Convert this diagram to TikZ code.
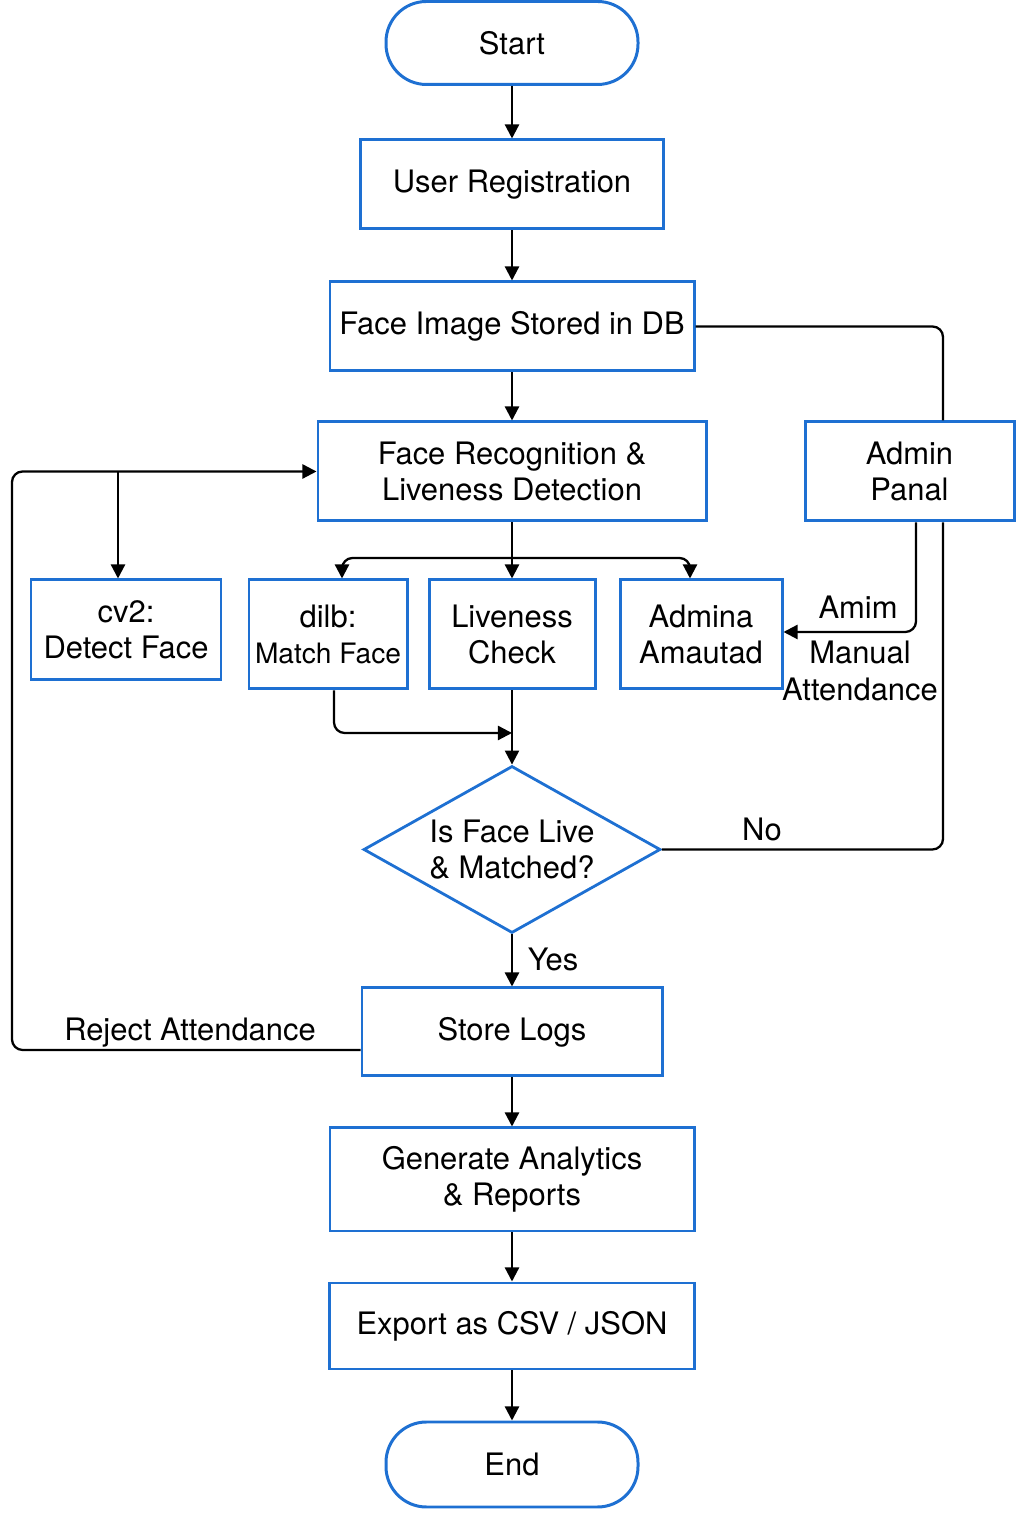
\documentclass[tikz,border=0pt]{standalone}
\usepackage{fontspec}
\setmainfont{TeX Gyre Heros}
\usetikzlibrary{shapes.geometric,arrows.meta}
\definecolor{boxblue}{RGB}{30,112,210}

\begin{document}
\begin{tikzpicture}[
    font=\fontsize{17.6}{20.8}\selectfont,
    box/.style={draw=boxblue, line width=1.7pt, align=center, inner sep=0pt},
    term/.style={box, rounded corners=23pt, minimum width=5.04cm, minimum height=1.66cm},
    decision/.style={draw=boxblue, line width=1.6pt, diamond, aspect=1.78, align=center, inner sep=0pt,
      minimum width=5.94cm, minimum height=3.34cm},
    line/.style={line width=1.3pt, rounded corners=6pt},
    arrow/.style={line, -{Triangle[length=8pt,width=8pt]}},
    lbl/.style={inner sep=0pt, align=center}
  ]
		\useasboundingbox (0,0) rectangle (20.48,30.72);

		% Main column
		\node[term] (start) at (10.24,29.86) {Start};
		\node[box, minimum width=6.06cm, minimum height=1.78cm] (reg) at (10.24,27.03) {User Registration};
		\node[box, minimum width=7.28cm, minimum height=1.78cm] (fimg) at (10.24,24.19) {Face Image Stored in DB};
		\node[box, minimum width=7.76cm, minimum height=1.98cm] (frec) at (10.24,21.29) {Face Recognition \&\\Liveness Detection};
		\node[box, minimum width=4.18cm, minimum height=1.98cm] (admin) at (18.19,21.29) {Admin\\Panal};

		% Checks
		\node[box, minimum width=3.80cm, minimum height=2.00cm] (cv) at (2.52,18.12) {cv2:\\Detect Face};
		\node[box, minimum width=3.16cm, minimum height=2.18cm] (dilb) at (6.56,18.03) {dilb:\\{\fontsize{16}{20}\selectfont Match Face}};
		\node[box, minimum width=3.32cm, minimum height=2.18cm] (liv) at (10.24,18.03) {Liveness\\Check};
		\node[box, minimum width=3.24cm, minimum height=2.18cm] (admina) at (14.02,18.03) {Admina\\Amautad};

		% Decision and output
		\node[decision] (dec) at (10.24,13.73) {Is Face Live\\\& Matched?};
		\node[box, minimum width=6.00cm, minimum height=1.76cm] (store) at (10.24,10.08) {Store Logs};
		\node[box, minimum width=7.28cm, minimum height=2.06cm] (gen) at (10.24,7.13) {Generate Analytics\\\& Reports};
		\node[box, minimum width=7.30cm, minimum height=1.72cm] (export) at (10.24,4.20) {Export as CSV / JSON};
		\node[term, minimum height=1.70cm] (end) at (10.24,1.43) {End};

		% Labels
		\node[lbl] (lblno) at (15.24,14.14) {No};
		\node[lbl] (lblyes) at (11.06,11.54) {Yes};
		\node[lbl] (lblreject) at (3.80,10.06) {Reject Attendance};
		\node[lbl] (lblamim) at (17.16,18.58) {Amim};
		\node[lbl] (lblmanual) at (17.20,17.30) {Manual\\Attendance};

		% Helper points
		\coordinate (bar) at (10.24,19.56);
		\coordinate (join) at (10.24,16.06);
		\coordinate (loopbot) at (0.24,9.72);
		\coordinate (looptop) at (0.24,21.29);
		\coordinate (branch) at (2.36,21.29);

		% Main flow
		\draw[arrow] (start) -- (reg);
		\draw[arrow] (reg) -- (fimg);
		\draw[arrow] (fimg) -- (frec);
		\draw[arrow] (frec) -- (liv);
		\draw[arrow] (bar) -| ([xshift=0.28cm]dilb.north);
		\draw[arrow] (bar) -| ([xshift=-0.22cm]admina.north);
		\draw[arrow] ([xshift=0.12cm]dilb.south) |- (join);
		\draw[arrow] (liv) -- (dec.north);
		\draw[arrow] (dec.south) -- (store);
		\draw[arrow] (store) -- (gen);
		\draw[arrow] (gen) -- (export);
		\draw[arrow] (export) -- (end);

		% Admin branch
		\draw[line] (fimg.east) -| ([xshift=0.67cm]admin.north);
		\draw[line] (dec.east) -| ([xshift=0.67cm]admin.south);
		\draw[arrow] ([xshift=0.13cm]admin.south) |- ([yshift=0.05cm]admina.east);

		% Reject loop
		\draw[arrow] ([yshift=-0.36cm]store.west) -- (loopbot) -- (looptop) -- (frec.west);
		\draw[arrow] (branch) -- (branch |- cv.north);
	\end{tikzpicture}
\end{document}
